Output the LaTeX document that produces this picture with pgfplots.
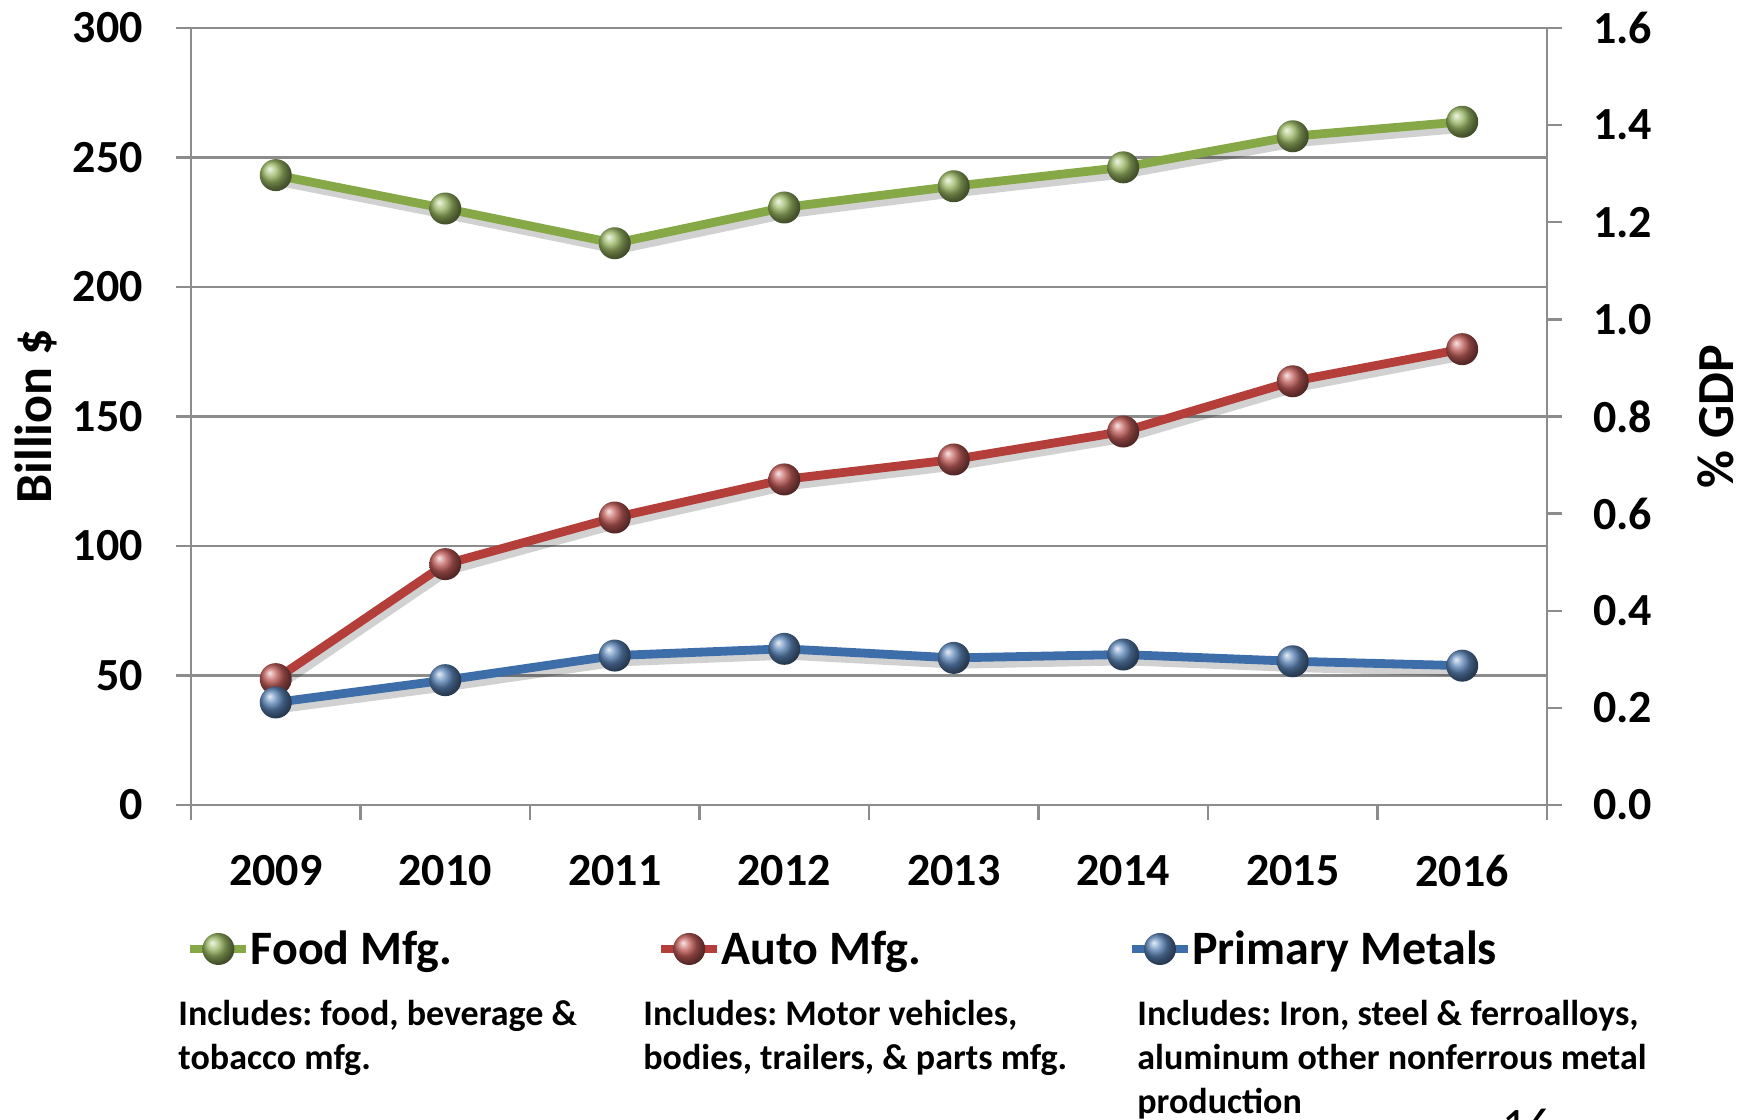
\documentclass[border=0pt]{standalone}
\usepackage{fontspec}
\setmainfont{Carlito}
\usepackage{pgfplots}
\pgfplotsset{compat=1.18}
\definecolor{gridgray}{RGB}{140,140,140}
\definecolor{foodc}{RGB}{134,168,70}
\definecolor{autoc}{RGB}{180,62,58}
\definecolor{metc}{RGB}{62,110,170}
\begin{document}
\frenchspacing
\begin{tikzpicture}[font=\bfseries]
\useasboundingbox (-95.5pt,-157.5pt) rectangle (778pt,402.5pt);
\begin{axis}[
  at={(0,0)}, anchor=south west,
  scale only axis, width=678pt, height=388.5pt,
  xmin=-0.5, xmax=7.5, ymin=0, ymax=300,
  axis x line*=bottom, axis y line*=left,
  axis line style={gridgray, line width=1.2pt, -},
  xtick={-0.5,0.5,...,7.5}, xticklabels={},
  extra x ticks={0,1,2,3,4,5,6,7},
  extra x tick labels={2009,2010,2011,2012,2013,2014,2015,2016},
  extra x tick style={tick style={draw=none}, grid=none},
  ytick={0,50,...,300},
  ymajorgrids, grid style={gridgray, line width=1.2pt},
  tick align=outside, major tick length=7.5pt,
  tick style={gridgray, line width=1.2pt},
  /pgf/number format/assume math mode=true,
  ticklabel style={font=\fontsize{23}{23}\selectfont\bfseries},
  xticklabel style={yshift=-14pt},
  yticklabel style={xshift=-13pt},
  ylabel={Billion \$},
  ylabel style={font=\fontsize{26}{26}\selectfont\bfseries, at={(axis description cs:-0.1143,0.5)}, anchor=center},
  legend columns=3,
  legend style={at={(axis description cs:-0.004,-0.1853)}, anchor=west, draw=none, fill=none, inner sep=0pt,
    font=\fontsize{24}{24}\selectfont\bfseries,
    nodes={inner sep=0pt},
    /tikz/every even column/.append style={column sep=0pt}},
  legend image code/.code={\draw[#1, mark repeat=2, mark phase=2] plot coordinates {(0pt,0pt) (14pt,0pt) (28pt,0pt)};},
]
\addplot[black, opacity=0.18, line width=4.8pt, forget plot, xshift=1.5pt, yshift=-3pt]
  coordinates {(0,243.2) (1,230.3) (2,216.9) (3,230.7) (4,238.9) (5,246.2) (6,258.2) (7,263.8)};
\addplot[black, opacity=0.18, line width=4.8pt, forget plot, xshift=1.5pt, yshift=-3pt]
  coordinates {(0,48.6) (1,93.0) (2,111.0) (3,125.7) (4,133.4) (5,144.2) (6,163.6) (7,176.0)};
\addplot[black, opacity=0.18, line width=4.8pt, forget plot, xshift=1.5pt, yshift=-3pt]
  coordinates {(0,39.6) (1,48.2) (2,57.7) (3,60.3) (4,56.8) (5,58.1) (6,55.5) (7,53.8)};
\addplot[foodc, line width=4.4pt, mark=ball, mark size=8pt, mark options={ball color=foodc!85!white, draw opacity=0}]
  coordinates {(0,243.2) (1,230.3) (2,216.9) (3,230.7) (4,238.9) (5,246.2) (6,258.2) (7,263.8)};
\addlegendentry{\makebox[203pt][l]{Food Mfg.}}
\addplot[autoc, line width=4.4pt, mark=ball, mark size=8pt, mark options={ball color=autoc!85!white, draw opacity=0}]
  coordinates {(0,48.6) (1,93.0) (2,111.0) (3,125.7) (4,133.4) (5,144.2) (6,163.6) (7,176.0)};
\addlegendentry{\makebox[203pt][l]{Auto Mfg.}}
\addplot[metc, line width=4.4pt, mark=ball, mark size=8pt, mark options={ball color=metc!85!white, draw opacity=0}]
  coordinates {(0,39.6) (1,48.2) (2,57.7) (3,60.3) (4,56.8) (5,58.1) (6,55.5) (7,53.8)};
\addlegendentry{\makebox[203pt][l]{Primary Metals}}
\end{axis}
\begin{axis}[
  at={(0,0)}, anchor=south west,
  scale only axis, width=678pt, height=388.5pt,
  xmin=-0.5, xmax=7.5, ymin=0, ymax=1.6,
  axis x line=none, axis y line*=right,
  axis line style={gridgray, line width=1.2pt, -},
  ytick={0,0.2,0.4,0.6,0.8,1.0,1.2,1.4,1.6},
  yticklabels={0.0,0.2,0.4,0.6,0.8,1.0,1.2,1.4,1.6},
  tick align=outside, major tick length=7.5pt,
  tick style={gridgray, line width=1.2pt},
  ticklabel style={font=\fontsize{23}{23}\selectfont\bfseries},
  yticklabel style={xshift=12pt},
  ylabel={\% GDP},
  ylabel style={font=\fontsize{26}{26}\selectfont\bfseries, at={(axis description cs:1.1246,0.5)}, anchor=center},
]
\end{axis}
\begin{scope}[every node/.style={anchor=north west, align=left, inner sep=0pt, font=\fontsize{18}{22}\selectfont\bfseries}]
\node at (-6.5pt,-97.5pt) {Includes: food, beverage \&\\tobacco mfg.};
\node at (226pt,-97.5pt) {Includes: Motor vehicles,\\bodies, trailers, \& parts mfg.};
\node at (473pt,-97.5pt) {Includes: Iron, steel \& ferroalloys,\\aluminum other nonferrous metal\\production};
\end{scope}
\node[anchor=north, font=\fontsize{24}{24}\selectfont, inner sep=0pt] at (668pt,-152pt) {16};
\end{tikzpicture}
\end{document}
